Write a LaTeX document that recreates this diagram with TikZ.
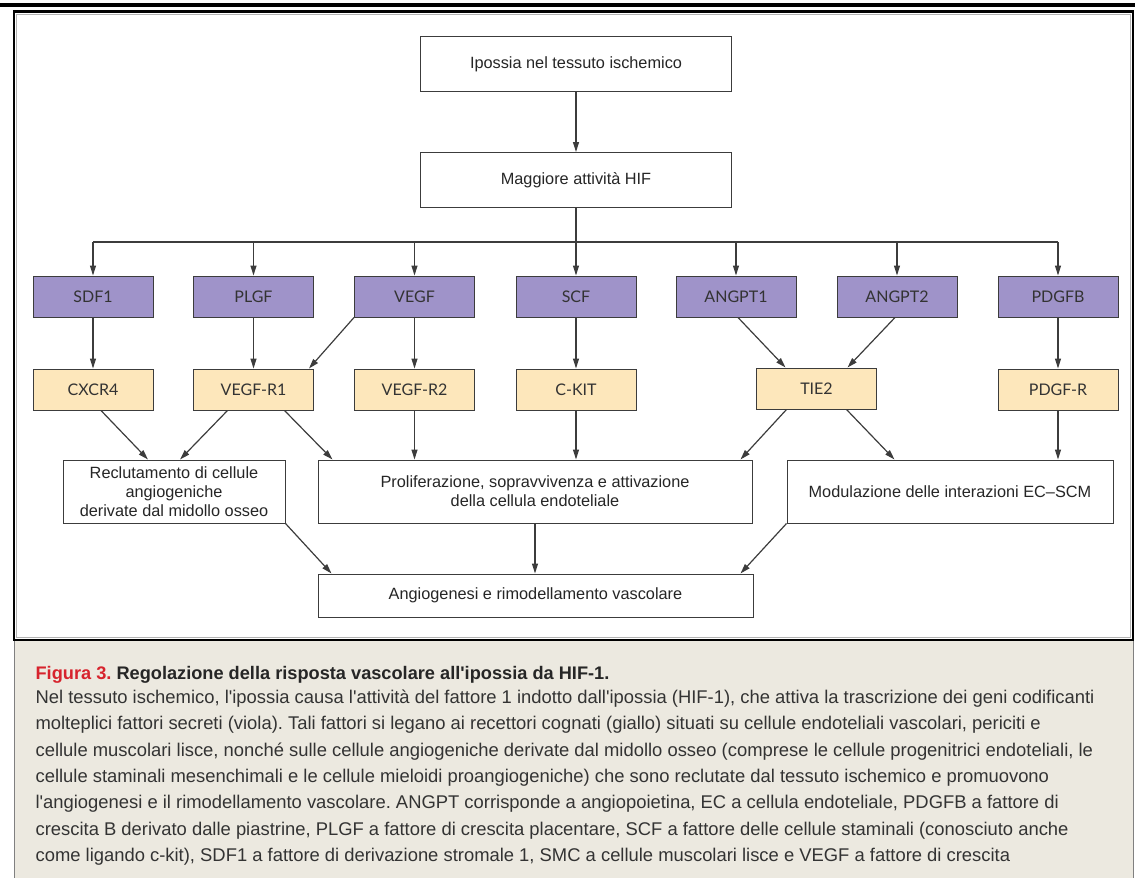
\documentclass[tikz,border=0pt]{standalone}
\usepackage{fontspec}
\setmainfont{Liberation Sans}[Ligatures=TeXOff]
\newfontfamily\facfont{Lato}
\usetikzlibrary{arrows.meta,positioning,calc}
\definecolor{purp}{RGB}{159,147,201}
\definecolor{yell}{RGB}{253,231,187}
\definecolor{linec}{RGB}{60,60,60}
\definecolor{capbg}{RGB}{236,233,224}
\definecolor{figred}{RGB}{215,35,45}
\frenchspacing

\begin{document}
\begin{tikzpicture}[x=1pt,y=-1pt,-{Triangle[length=10pt,width=6pt]},color=linec,line width=1.2pt,
    box/.style={-,draw=linec,line width=1pt,fill=white,minimum width=311pt,minimum height=55pt,
        align=center,text=black!85,font=\fontsize{16.3}{19}\selectfont},
    fac/.style={-,draw=linec,line width=1pt,fill=purp,minimum width=120pt,minimum height=41pt,
        text=black!80,font=\facfont\fontsize{16}{19}\selectfont},
    rcp/.style={fac,fill=yell}]

    \useasboundingbox (0,0) rectangle (1135,878);

    % cornice e didascalia
    \draw[-,line width=4pt,black] (0,4.7) -- (1135,4.7);
    \fill[capbg] (14,640) rectangle (1133,878);
    \draw[-,line width=1pt,gray] (14,640) -- (14,878);
    \draw[-,line width=1pt,gray] (1133,640) -- (1133,878);
    \draw[-,line width=1pt,gray!60] (16.5,14) rectangle (1130.5,637.5);
    \draw[-,line width=2.5pt,black] (14,11.5) rectangle (1133,640);

    \node[box] (ipo) at (576,64) {Ipossia nel tessuto ischemico};
    \node[box] (hif) [below=60pt of ipo] {Maggiore attività HIF};
    \coordinate (bus) at (576,242);

    \node[fac] (sdf) at (93,296.5) {SDF1};
    \node[fac] (plgf) at (253.5,296.5) {PLGF};
    \node[fac] (vegf) at (414.5,296.5) {VEGF};
    \node[fac] (scf) at (576,296.5) {SCF};
    \node[fac] (ang1) at (736,296.5) {ANGPT1};
    \node[fac] (ang2) at (897,296.5) {ANGPT2};
    \node[fac] (pdgfb) at (1058,296.5) {PDGFB};

    \node[rcp] (cxcr) [below=51pt of sdf] {CXCR4};
    \node[rcp] (vr1) [below=51pt of plgf] {VEGF-R1};
    \node[rcp] (vr2) [below=51pt of vegf] {VEGF-R2};
    \node[rcp] (ckit) [below=51pt of scf] {C-KIT};
    \node[rcp] (tie) at (816.5,388.5) {TIE2};
    \node[rcp] (pdgfr) [below=51pt of pdgfb] {PDGF-R};

    \node[box,minimum width=222pt,minimum height=63pt] (recl) at (174,491.5)
        {Reclutamento di cellule\\angiogeniche\\derivate dal midollo osseo};
    \node[box,minimum width=434pt,minimum height=63pt] (prol) at (535,491.5)
        {Proliferazione, sopravvivenza e attivazione\\della cellula endoteliale};
    \node[box,minimum width=326pt,minimum height=63pt] (modu) at (950,491.5)
        {Modulazione delle interazioni EC–SCM};
    \node[box,minimum width=435pt,minimum height=43pt] (angio) at (535.5,595.5)
        {Angiogenesi e rimodellamento vascolare};

    \node[anchor=base west,inner sep=0,text=black!85,font=\bfseries\fontsize{18.2}{20}\selectfont] (titolo) at (35,679.5)
        {\textcolor{figred}{Figura 3.} Regolazione della risposta vascolare all'ipossia da HIF-1.};
    \node[anchor=north west,inner sep=0,align=left,text=black!80,font=\fontsize{18.4}{26.3}\selectfont] (testo) at (35,689.5)
        {Nel tessuto ischemico, l'ipossia causa l'attività del fattore 1 indotto dall'ipossia (HIF-1), che attiva la trascrizione dei geni codificanti\\
        molteplici fattori secreti (viola). Tali fattori si legano ai recettori cognati (giallo) situati su cellule endoteliali vascolari, periciti e\\
        cellule muscolari lisce, nonché sulle cellule angiogeniche derivate dal midollo osseo (comprese le cellule progenitrici endoteliali, le\\
        cellule staminali mesenchimali e le cellule mieloidi proangiogeniche) che sono reclutate dal tessuto ischemico e promuovono\\
        l'angiogenesi e il rimodellamento vascolare. ANGPT corrisponde a angiopoietina, EC a cellula endoteliale, PDGFB a fattore di\\
        crescita B derivato dalle piastrine, PLGF a fattore di crescita placentare, SCF a fattore delle cellule staminali (conosciuto anche\\
        come ligando c-kit), SDF1 a fattore di derivazione stromale 1, SMC a cellule muscolari lisce e VEGF a fattore di crescita};

    \draw[] (ipo) to (hif);
    \draw[-] (hif) to (bus);
    \draw[-] (sdf |- bus) to (pdgfb |- bus);
    \draw[] (sdf |- bus) to (sdf);
    \draw[] (plgf |- bus) to (plgf);
    \draw[] (vegf |- bus) to (vegf);
    \draw[] (bus) to (scf);
    \draw[] (ang1 |- bus) to (ang1);
    \draw[] (ang2 |- bus) to (ang2);
    \draw[] (pdgfb |- bus) to (pdgfb);

    \draw[] (sdf) to (cxcr);
    \draw[] (plgf) to (vr1);
    \draw[] (vegf.south west) to ([xshift=-5pt]vr1.north east);
    \draw[] (vegf) to (vr2);
    \draw[] (scf) to (ckit);
    \draw[] ([xshift=2pt]ang1.south) to ([xshift=-31pt]tie.north);
    \draw[] ([xshift=-2pt]ang2.south) to ([xshift=31pt]tie.north);
    \draw[] (pdgfb) to (pdgfr);

    \draw[] ([xshift=8pt]cxcr.south) to ([xshift=-26pt]recl.north);
    \draw[] ([xshift=-26pt]vr1.south) to ([xshift=6pt]recl.north);
    \draw[] ([xshift=31pt]vr1.south) to ([xshift=15pt]prol.north west);
    \draw[] (vr2) to (vr2 |- prol.north);
    \draw[] (ckit) to (ckit |- prol.north);
    \draw[] ([xshift=-30pt]tie.south) to ([xshift=-12pt]prol.north east);
    \draw[] ([xshift=30pt]tie.south) to ([xshift=108pt]modu.north west);
    \draw[] (pdgfr) to (pdgfr |- modu.north);

    \draw[] (recl.south east) to ([xshift=14pt]angio.north west);
    \draw[] (prol) to (prol |- angio.north);
    \draw[] (modu.south west) to ([xshift=-13pt]angio.north east);
\end{tikzpicture}
\end{document}
